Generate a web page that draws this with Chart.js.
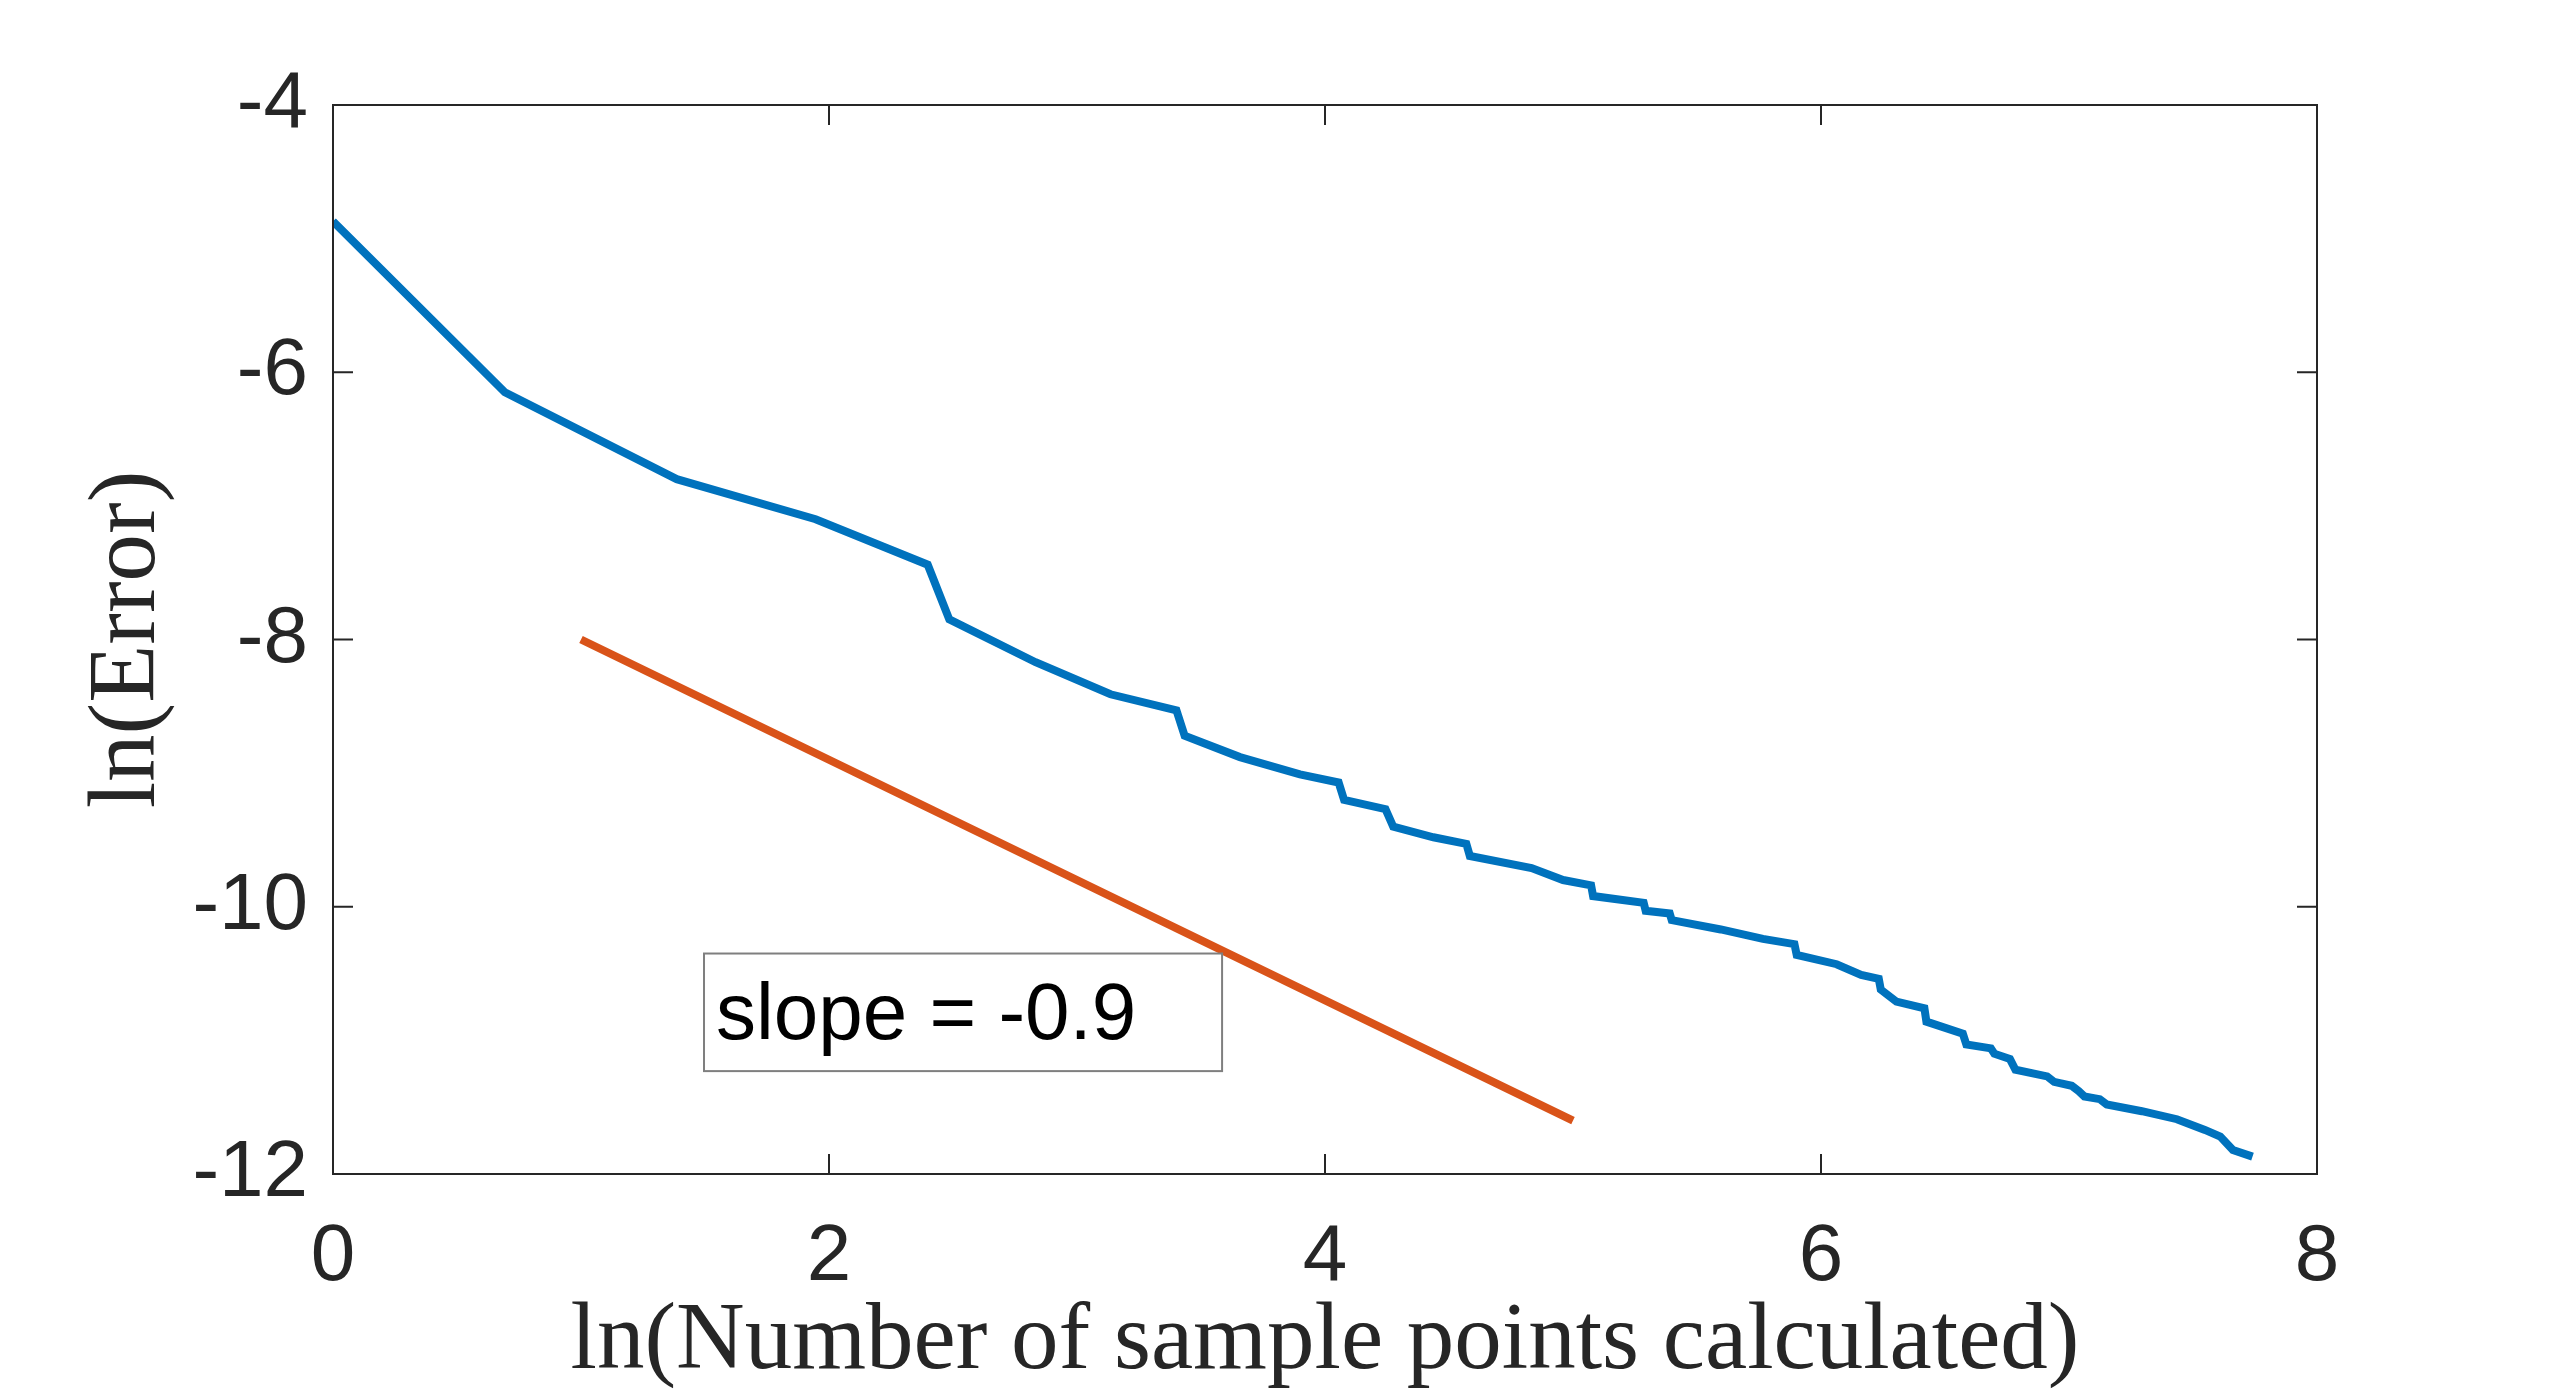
<!DOCTYPE html>
<html>
<head>
<meta charset="utf-8">
<title>ln(Error) vs ln(Number of sample points)</title>
<script src="https://cdn.jsdelivr.net/npm/chart.js@4.4.1/dist/chart.umd.min.js"></script>
<style>
  html, body { margin: 0; padding: 0; background: #fff; }
  #wrap { width: 2560px; height: 1396px; }
</style>
</head>
<body>
<div id="wrap"><canvas id="errorChart" width="2560" height="1396"></canvas></div>
<script>
// measured error curve
const sampleLnN = [0, 0.693, 1.386, 1.946, 2.398, 2.485, 2.833, 3.135, 3.401, 3.434,
  3.657, 3.899, 4.055, 4.077, 4.244, 4.275, 4.437, 4.570, 4.584, 4.833,
  4.960, 5.073, 5.081, 5.285, 5.293, 5.390, 5.398, 5.596, 5.766, 5.893,
  5.902, 6.063, 6.162, 6.233, 6.241, 6.304, 6.417, 6.425, 6.572, 6.586,
  6.685, 6.699, 6.762, 6.784, 6.912, 6.940, 7.011, 7.039, 7.062, 7.124,
  7.152, 7.294, 7.435, 7.548, 7.610, 7.661, 7.740];
const errorLn = [-4.87, -6.15, -6.80, -7.10, -7.44, -7.85, -8.17, -8.41, -8.53, -8.72,
  -8.88, -9.01, -9.07, -9.20, -9.27, -9.40, -9.48, -9.53, -9.62, -9.71,
  -9.80, -9.84, -9.92, -9.97, -10.03, -10.05, -10.10, -10.17, -10.24, -10.28,
  -10.36, -10.43, -10.51, -10.54, -10.62, -10.71, -10.76, -10.86, -10.95, -11.03,
  -11.06, -11.10, -11.14, -11.22, -11.27, -11.31, -11.34, -11.38, -11.42, -11.44,
  -11.48, -11.53, -11.59, -11.67, -11.72, -11.82, -11.87];

// reference line, slope -0.9
const refLnN = [1, 5];
const refErr = [-8, -11.6];

const xTicks = [0, 2, 4, 6, 8];
const yTicks = [-4, -6, -8, -10, -12];
const noteText = 'slope = -0.9';

const app = {
    chart: null,
    AXIS_COLOR: '#262626',

    toPoints: function(xs, ys) {
        return xs.map((x, i) => ({ x: x, y: ys[i] }));
    },

    // box round the axes with inward ticks on all four sides
    framePlugin: {
        id: 'frame',
        afterDatasetsDraw: function(chart) {
            const ctx = chart.ctx;
            const area = chart.chartArea;
            const xs = chart.scales.x, ys = chart.scales.y;
            const len = 20;
            ctx.save();
            ctx.strokeStyle = app.AXIS_COLOR;
            ctx.lineWidth = 2;
            ctx.strokeRect(area.left, area.top, area.right - area.left, area.bottom - area.top);
            ctx.beginPath();
            xTicks.forEach(v => {
                const px = xs.getPixelForValue(v);
                ctx.moveTo(px, area.bottom); ctx.lineTo(px, area.bottom - len);
                ctx.moveTo(px, area.top); ctx.lineTo(px, area.top + len);
            });
            yTicks.forEach(v => {
                const py = ys.getPixelForValue(v);
                ctx.moveTo(area.left, py); ctx.lineTo(area.left + len, py);
                ctx.moveTo(area.right, py); ctx.lineTo(area.right - len, py);
            });
            ctx.stroke();
            ctx.restore();
        }
    },

    // text box placed in data coordinates
    notePlugin: {
        id: 'slopeNote',
        afterDatasetsDraw: function(chart, args, opts) {
            const ctx = chart.ctx;
            const xs = chart.scales.x, ys = chart.scales.y;
            const l = xs.getPixelForValue(opts.x1), r = xs.getPixelForValue(opts.x2);
            const t = ys.getPixelForValue(opts.y1), b = ys.getPixelForValue(opts.y2);
            ctx.save();
            ctx.fillStyle = '#fff';
            ctx.fillRect(l, t, r - l, b - t);
            ctx.strokeStyle = '#7f7f7f';
            ctx.lineWidth = 2;
            ctx.strokeRect(l, t, r - l, b - t);
            ctx.fillStyle = '#000';
            ctx.font = '80px "Liberation Sans", Arial, sans-serif';
            ctx.textBaseline = 'alphabetic';
            ctx.textAlign = 'left';
            ctx.fillText(opts.text, l + 12, b - 32);
            ctx.restore();
        }
    },

    init: function() {
        const ctx = document.getElementById('errorChart').getContext('2d');
        const tickFont = { family: '"Liberation Sans", Arial, sans-serif', size: 80 };
        const titleFont = { family: '"Liberation Serif", "Times New Roman", serif', size: 95, lineHeight: 1 };

        this.chart = new Chart(ctx, {
            type: 'scatter',
            data: {
                datasets: [{
                    data: this.toPoints(sampleLnN, errorLn),
                    showLine: true,
                    borderColor: '#0072BD',
                    borderWidth: 8,
                    pointRadius: 0,
                    tension: 0,
                    fill: false
                }, {
                    data: this.toPoints(refLnN, refErr),
                    showLine: true,
                    borderColor: '#D95319',
                    borderWidth: 8,
                    pointRadius: 0,
                    tension: 0,
                    fill: false
                }]
            },
            options: {
                responsive: false,
                animation: false,
                devicePixelRatio: 1,
                layout: { padding: { top: 105, right: 243, left: 0, bottom: 0 } },
                plugins: {
                    legend: { display: false },
                    tooltip: { enabled: false },
                    slopeNote: { x1: 1.496, x2: 3.585, y1: -10.35, y2: -11.23, text: noteText }
                },
                scales: {
                    x: {
                        type: 'linear',
                        min: 0,
                        max: 8,
                        afterBuildTicks: s => { s.ticks = xTicks.map(v => ({ value: v })); },
                        afterFit: s => { s.height = 222; },
                        grid: { display: false, drawTicks: false },
                        border: { display: false },
                        ticks: { font: tickFont, color: this.AXIS_COLOR, padding: 36, maxRotation: 0 },
                        title: {
                            display: true,
                            text: 'ln(Number of sample points calculated)',
                            font: titleFont,
                            color: this.AXIS_COLOR,
                            padding: { top: 0, bottom: 5 }
                        }
                    },
                    y: {
                        type: 'linear',
                        min: -12,
                        max: -4,
                        afterBuildTicks: s => { s.ticks = yTicks.map(v => ({ value: v })); },
                        afterFit: s => { s.width = 333; },
                        grid: { display: false, drawTicks: false },
                        border: { display: false },
                        ticks: { font: tickFont, color: this.AXIS_COLOR, padding: 25 },
                        title: {
                            display: true,
                            text: 'ln(Error)',
                            font: titleFont,
                            color: this.AXIS_COLOR,
                            padding: { top: 82, bottom: 0 }
                        }
                    }
                }
            },
            plugins: [this.framePlugin, this.notePlugin]
        });
    }
};

app.init();
</script>
</body>
</html>
